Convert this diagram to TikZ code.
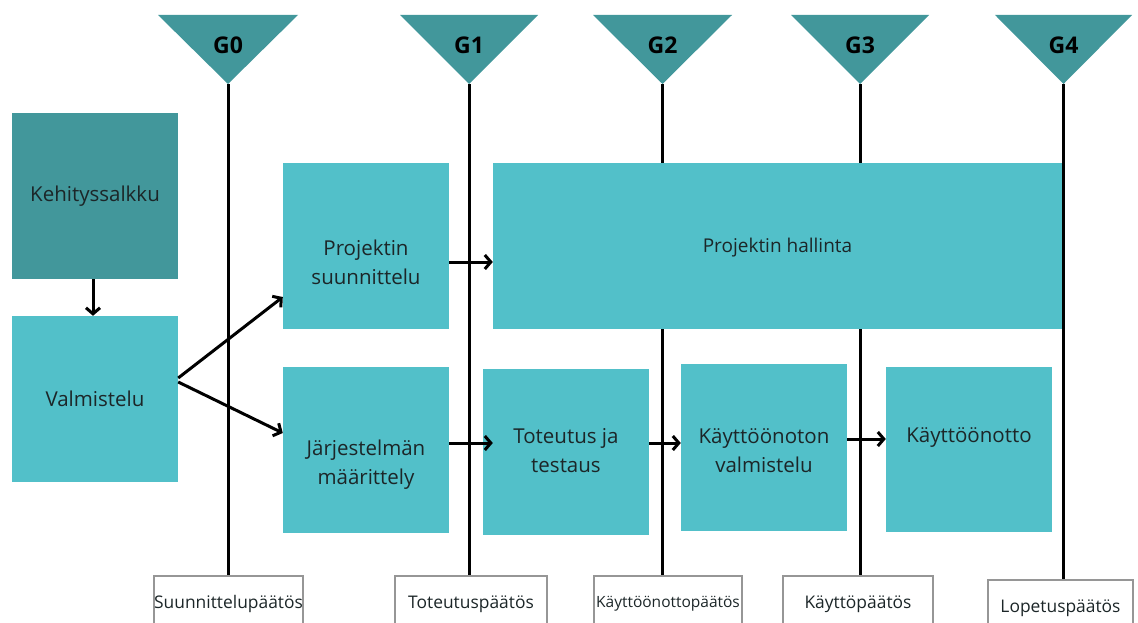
\documentclass[tikz,border=0pt]{standalone}
\usepackage{fontspec}
\setmainfont{Open Sans}
\usetikzlibrary{arrows.meta,calc}
\definecolor{darkteal}{RGB}{66,151,155}
\definecolor{lightteal}{RGB}{82,192,201}
\definecolor{txt}{RGB}{28,38,40}
\definecolor{framegray}{RGB}{150,150,150}
\begin{document}
\begin{tikzpicture}[x=1pt,y=-1pt,
  mainbox/.style={fill=lightteal, draw=none, inner sep=0pt, minimum width=166pt, minimum height=166pt},
  maintext/.style={text=txt, font=\fontsize{20.5}{29}\selectfont, align=center, inner sep=0pt},
  decbox/.style={draw=framegray, line width=2pt, fill=white, inner sep=0pt, minimum height=56pt, text=txt},
  dectext/.style={font=\fontsize{17.4}{20}\selectfont},
  gatetri/.style={fill=darkteal, draw=none},
  gatetext/.style={font=\fontsize{23}{26}\selectfont\bfseries, text=black, inner sep=0pt},
  gateline/.style={line width=3pt, black},
  flow/.style={line width=3pt, black, -{Straight Barb[length=6pt,width=14pt]}}
]
\useasboundingbox (0,0) rectangle (1138,623);

% decision boxes (bottom)
\node[decbox, dectext, minimum width=149pt] (d0) at (228.5,604) {Suunnittelupäätös};
\node[decbox, dectext, minimum width=152pt] (d1) at (471,604) {Toteutuspäätös};
\node[decbox, minimum width=148pt, font=\fontsize{15.5}{18}\selectfont] (d2) at (668,604) {Käyttöönottopäätös};
\node[decbox, dectext, minimum width=150pt] (d3) at (858,604) {Käyttöpäätös};
\node[decbox, dectext, minimum width=145pt] (d4) at (1060.5,608) {Lopetuspäätös};

% gates
\coordinate (a0) at (228,84);
\coordinate (a1) at (469,84);
\coordinate (a2) at (662.5,84);
\coordinate (a3) at (860,84);
\coordinate (a4) at (1063.5,84);
\fill[gatetri] (158,15) -- (298,15) -- (a0) -- cycle;
\fill[gatetri] (400,15) -- (538,15) -- (a1) -- cycle;
\fill[gatetri] (593,15) -- (732,15) -- (a2) -- cycle;
\fill[gatetri] (791,15) -- (929,15) -- (a3) -- cycle;
\fill[gatetri] (995,15) -- (1132,15) -- (a4) -- cycle;
\node[gatetext] (g0) at (228,45) {G0};
\node[gatetext] (g1) at (469,45) {G1};
\node[gatetext] (g2) at (662.5,45) {G2};
\node[gatetext] (g3) at (860,45) {G3};
\node[gatetext] (g4) at (1063.5,45) {G4};

\draw[gateline] (a0) -- (a0 |- d0.north);
\draw[gateline] (a1) -- (a1 |- d1.north);
\draw[gateline] (a2) -- (a2 |- d2.north);
\draw[gateline] (a3) -- (a3 |- d3.north);
\draw[gateline] (a4) -- (a4 |- d4.north);

% main boxes
\node[mainbox, fill=darkteal] (keh) at (95,196) {};
\node[maintext] (keh-t) at (keh.center) {Kehityssalkku};
\node[mainbox] (val) at (95,399) {};
\node[maintext] (val-t) at (val.center) {Valmistelu};
\node[mainbox] (ps) at (366,246) {};
\node[maintext] (ps-t) at ($(ps.center)+(0,16)$) {Projektin\\suunnittelu};
\node[mainbox] (jm) at (366,450) {};
\node[maintext] (jm-t) at ($(jm.center)+(0,15)$) {Järjestelmän\\määrittely};
\node[mainbox, minimum width=569pt] (ph) at (777.5,246) {};
\node[maintext, font=\fontsize{19}{28}\selectfont] (ph-t) at ($(ph.center)+(0,2)$) {Projektin hallinta};
\node[mainbox] (tt) at (566,452) {};
\node[maintext] (tt-t) at ($(tt.center)+(0,-1)$) {Toteutus ja\\testaus};
\node[mainbox, minimum height=167pt] (kv) at (764,447.5) {};
\node[maintext] (kv-t) at ($(kv.center)+(0,3)$) {Käyttöönoton\\valmistelu};
\node[mainbox, minimum height=165pt] (ko) at (969,449.5) {};
\node[maintext] (ko-t) at ($(ko.center)+(0,-12)$) {Käyttöönotto};

% flows
\draw[flow] (keh.south -| 93,0) -- (val.north -| 93,0);
\draw[flow] ($(val.east)+(0,-21)$) -- ($(ps.west)+(0,51)$);
\draw[flow] ($(val.east)+(0,-17)$) -- ($(jm.west)+(0,-17)$);
\draw[flow] ($(ps.east)+(0,16)$) -- ($(ph.west)+(0,16)$);
\draw[flow] ($(jm.east)+(0,-7)$) -- ($(tt.west)+(10,-9)$);
\draw[flow] ($(tt.east)+(0,-9)$) -- ($(kv.west)+(0,-4.5)$);
\draw[flow] ($(kv.east)+(0,-8.5)$) -- ($(ko.west)+(0,-10.5)$);
\end{tikzpicture}
\end{document}
